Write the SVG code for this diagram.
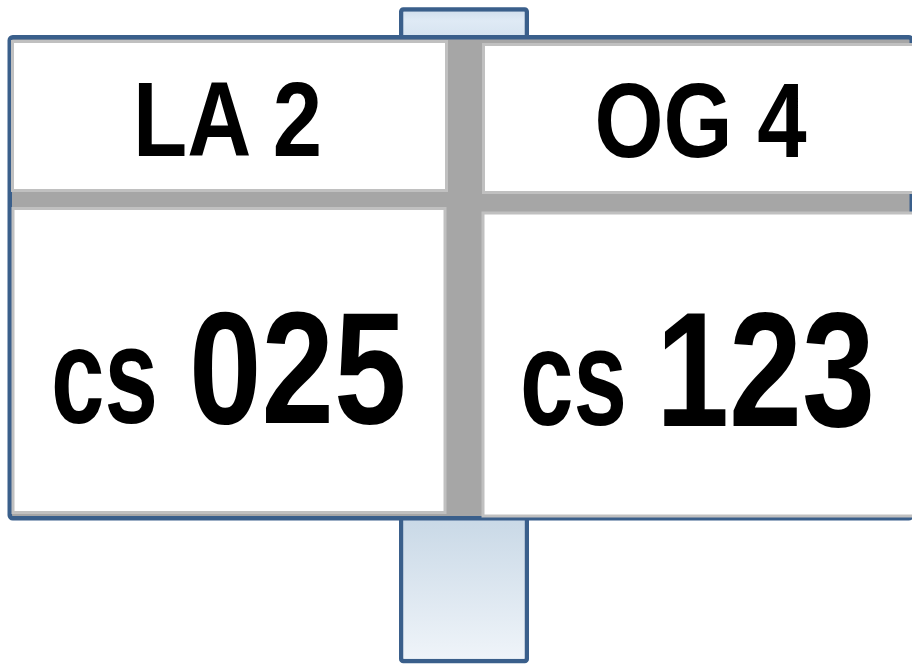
<svg xmlns="http://www.w3.org/2000/svg" width="912" height="664" viewBox="0 0 912 664">
  <style>
    .post { stroke: #3a5f8b; stroke-width: 4.5; }
    .board { fill: #a6a6a6; stroke: #3a5f8b; stroke-width: 4.5; }
    .panel { fill: #ffffff; stroke: #c0c0c0; stroke-width: 3; }
    .t { font-family: "Liberation Sans Narrow", "Liberation Sans", Arial, sans-serif; font-weight: bold; fill: #000000; }
  </style>
  <defs>
    <linearGradient id="postTop" x1="0" y1="0" x2="0" y2="1">
      <stop offset="0" stop-color="#d2e0ee"/>
      <stop offset="0.3" stop-color="#dfeaf5"/>
      <stop offset="1" stop-color="#d4e2ef"/>
    </linearGradient>
    <linearGradient id="postBottom" x1="0" y1="0" x2="0" y2="1">
      <stop offset="0" stop-color="#c4d5e4"/>
      <stop offset="1" stop-color="#eff4f9"/>
    </linearGradient>
  </defs>

  <g id="post">
    <rect class="post" x="401.25" y="9.5" width="125.5" height="651.5" rx="2" fill="url(#postBottom)"/>
    <rect x="403.5" y="11.75" width="121" height="30" fill="url(#postTop)"/>
    <rect x="403.5" y="500" width="121" height="158.75" fill="url(#postBottom)"/>
  </g>

  <g id="board">
    <rect class="board" x="9.75" y="37.25" width="902" height="481" rx="3"/>
  </g>

  <g id="panel-la2">
    <rect class="panel" x="12.5" y="41.5" width="434" height="149"/>
    <text class="t" x="133" y="156" font-size="106" textLength="189" lengthAdjust="spacingAndGlyphs">LA 2</text>
  </g>

  <g id="panel-og4">
    <rect class="panel" x="483.5" y="44.5" width="440" height="148"/>
    <text class="t" x="594.5" y="157" font-size="106" textLength="212" lengthAdjust="spacingAndGlyphs">OG 4</text>
  </g>

  <g id="panel-cs025">
    <rect class="panel" x="13" y="208.5" width="432" height="304"/>
    <text class="t" y="423"><tspan x="51" font-size="137" textLength="107" lengthAdjust="spacingAndGlyphs">cs</tspan><tspan x="189" font-size="160" textLength="217.5" lengthAdjust="spacingAndGlyphs">025</tspan></text>
  </g>

  <g id="panel-cs123">
    <rect class="panel" x="483" y="213" width="440" height="303"/>
    <text class="t" y="426"><tspan x="520" y="425" font-size="137" textLength="107" lengthAdjust="spacingAndGlyphs">cs</tspan><tspan x="656" y="426" font-size="163" textLength="219" lengthAdjust="spacingAndGlyphs">123</tspan></text>
  </g>
</svg>
